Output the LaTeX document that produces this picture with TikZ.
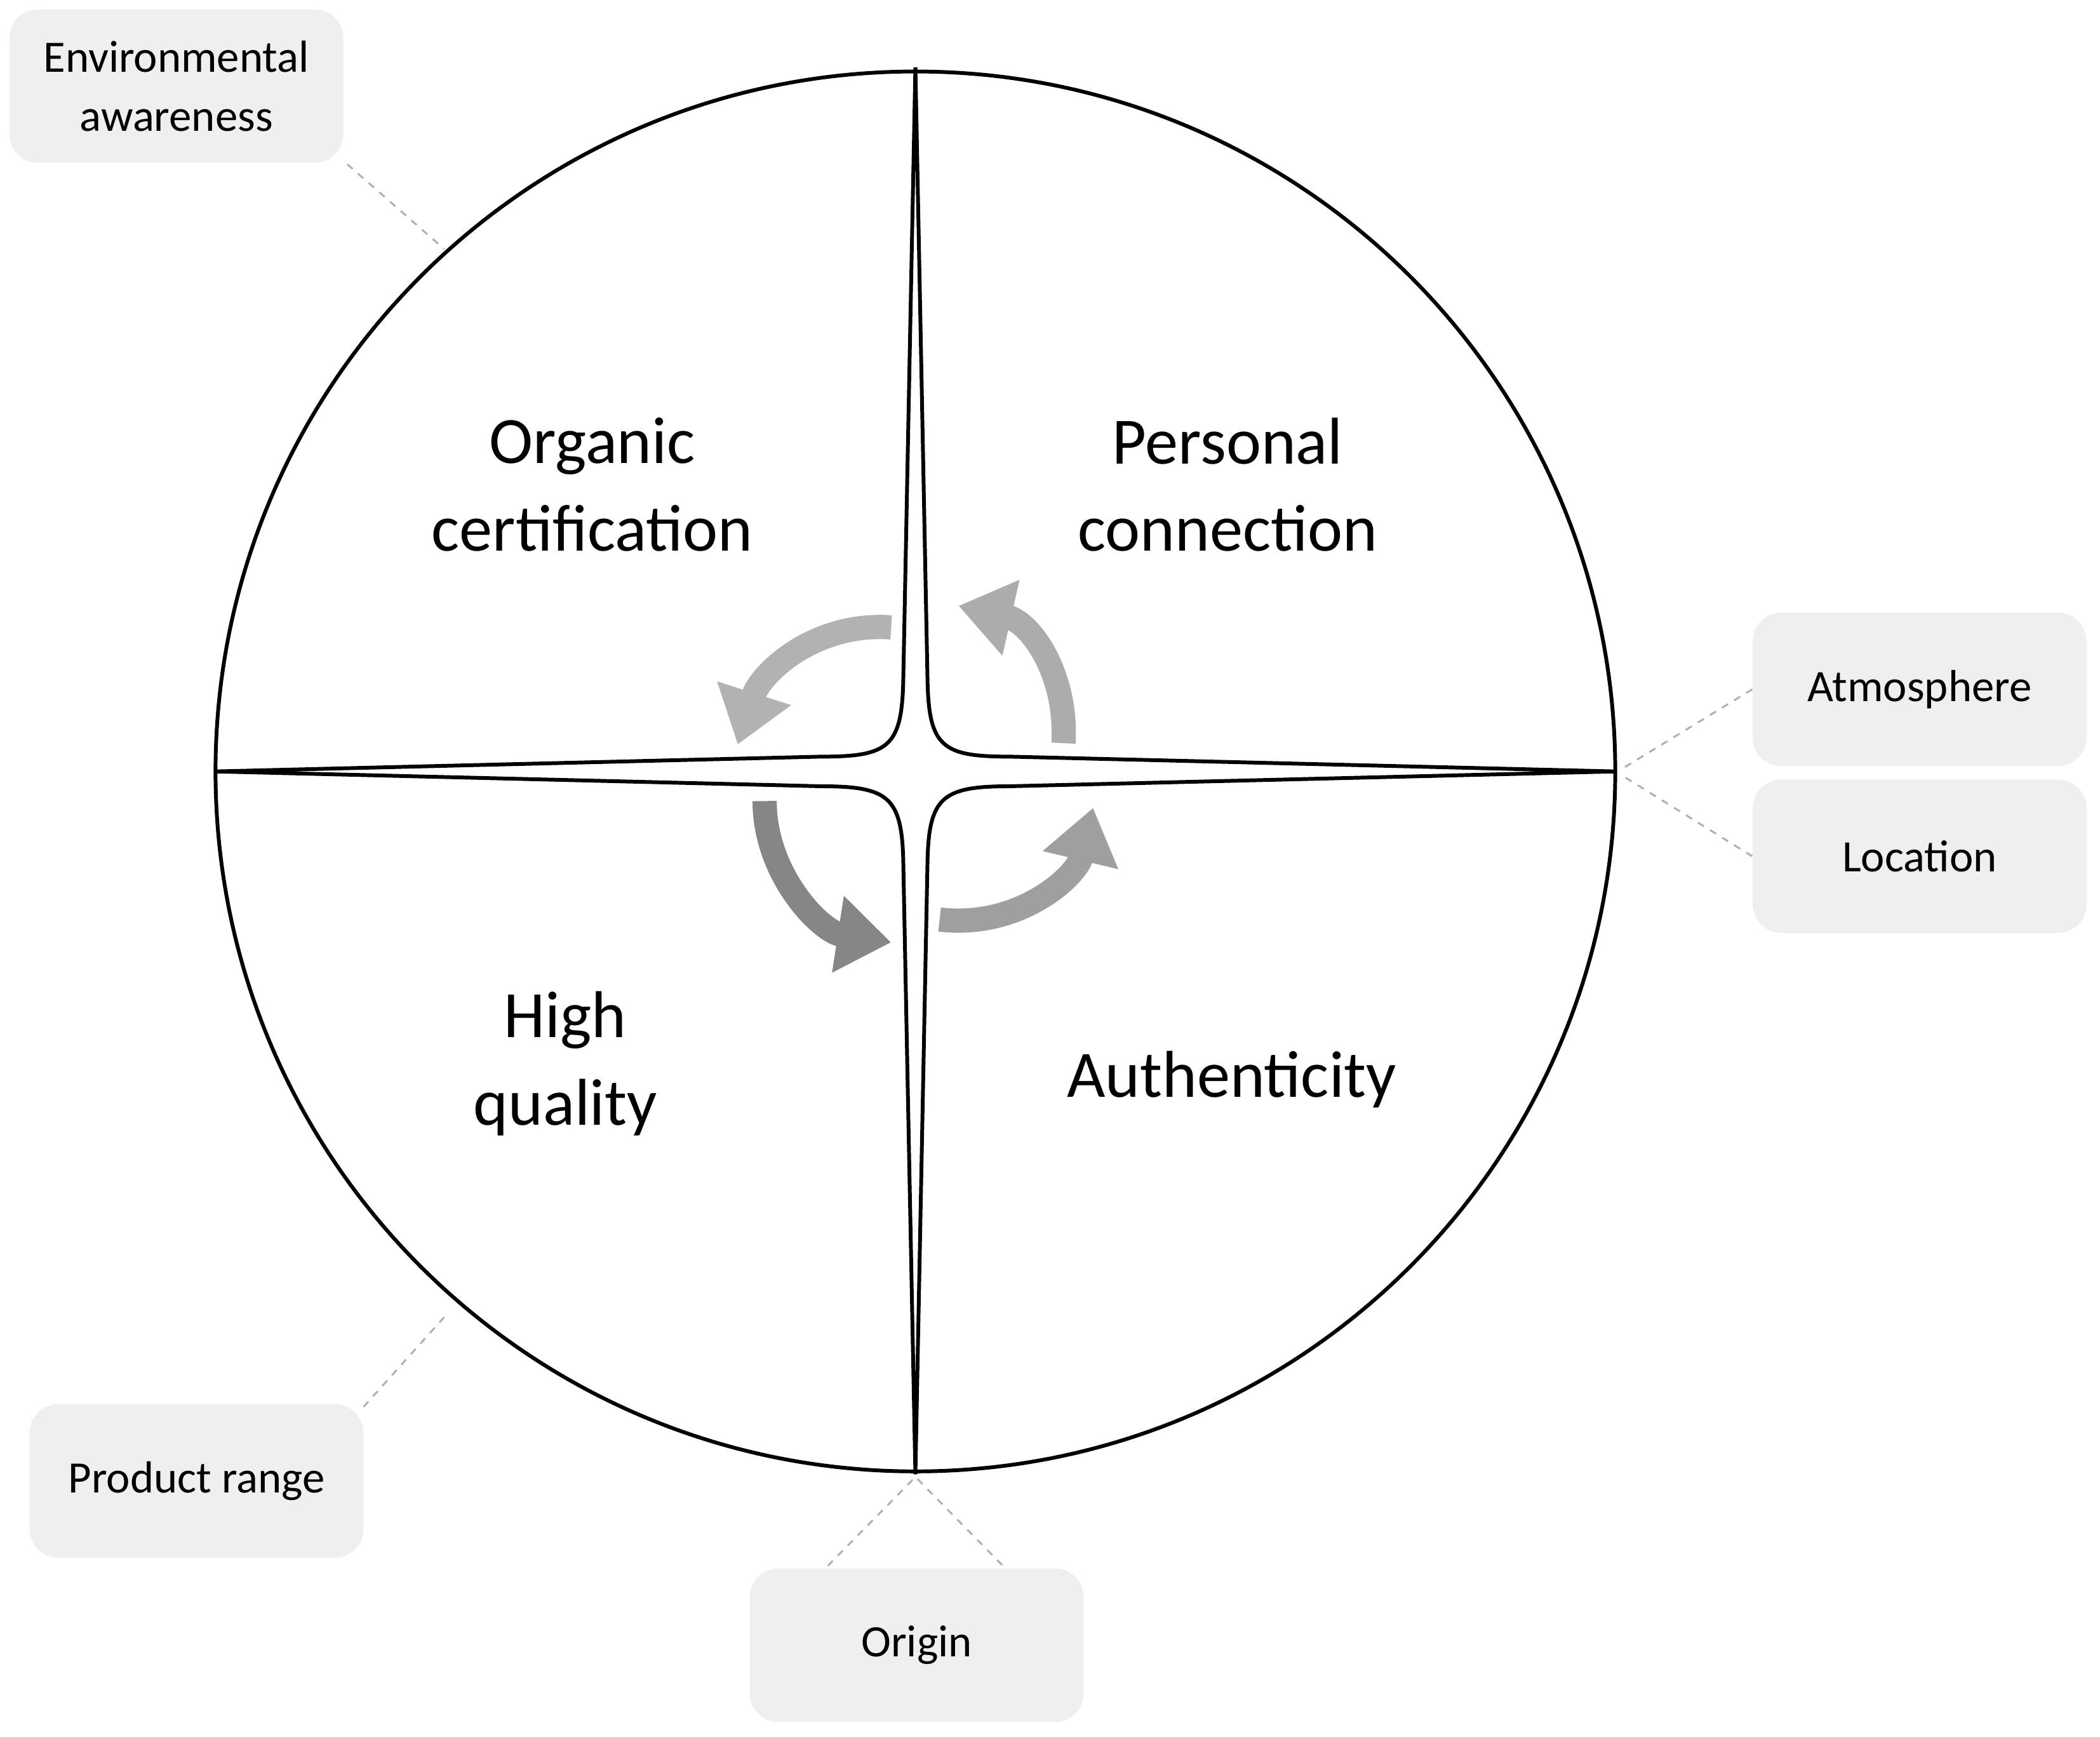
\documentclass[tikz,border=0pt]{standalone}
\usepackage{fontspec}
\setmainfont{Carlito}
\usetikzlibrary{arrows.meta}
\definecolor{boxgray}{HTML}{EFEFEF}
\definecolor{dashgray}{HTML}{B0B0B0}
\begin{document}
\begin{tikzpicture}[x=0.02cm,y=-0.02cm,
  tag/.style={fill=boxgray,rounded corners=12pt,minimum width=4.96cm,minimum height=2.28cm,align=center,font=\fontsize{19}{25}\selectfont},
  big/.style={align=center,font=\fontsize{28}{37}\selectfont},
  conn/.style={dashgray,dashed,line width=0.8pt},
  cyc/.style={line width=0.36cm,draw=gray!80,-{Triangle[length=0.8cm,width=1.1cm]}}]
\useasboundingbox (0,0) rectangle (1560,1290);
\coordinate (c) at (680,573);
\draw[line width=1.6pt] (c) circle[radius=10.4cm];
% cycle arrows
\draw[cyc,draw=gray!60] (662,466) .. controls (605,462) and (565,500) .. (548,553);
\draw[cyc,draw=gray!65] (790,552) .. controls (793,500) and (765,462) .. (712,450);
\draw[cyc,draw=gray!75] (698,683) .. controls (758,690) and (800,650) .. (812,600);
\draw[cyc,draw=gray!95] (568,595) .. controls (568,650) and (610,692) .. (662,700);
% star
\draw[line width=1.6pt,fill=white]
 (680,50) -- (689,505) .. controls (690,555) and (700,562) .. (750,562)
 -- (1200,573) -- (750,584) .. controls (700,584) and (690,592) .. (689,640)
 -- (680,1095) -- (671,640) .. controls (670,592) and (660,584) .. (610,584)
 -- (160,573) -- (610,562) .. controls (660,562) and (670,555) .. (671,505) -- cycle;
\node[big] (oc) at (440,360) {Organic\\certification};
\node[big] (pc) at (912,360) {Personal\\connection};
\node[big] (hq) at (420,790) {High\\quality};
\node[big] (au) at (915,802) {Authenticity};
\node[tag] (ea) at (131,64) {Environmental\\awareness};
\node[tag] (at) at (1426,512) {Atmosphere};
\node[tag] (lo) at (1426,636) {Location};
\node[tag] (pr) at (146,1100) {Product range};
\node[tag] (or) at (681,1222) {Origin};
\coordinate (p1) at (330,185);
\coordinate (p2) at (1205,571);
\coordinate (p3) at (1205,576);
\coordinate (p4) at (333,975);
\coordinate (p5) at (680,1097);
\draw[conn] (258,122) -- (p1);
\draw[conn] (at.west) -- (p2);
\draw[conn] (lo.west) -- (p3);
\draw[conn] (270,1045) -- (p4);
\draw[conn] (615,1163) -- (p5) -- (745,1163);
\end{tikzpicture}
\end{document}
